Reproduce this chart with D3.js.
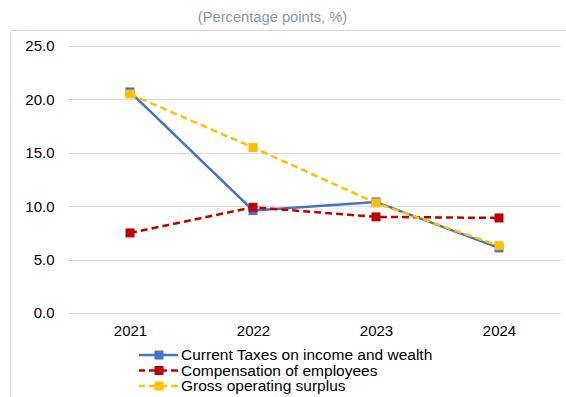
<!DOCTYPE html>
<html>
<head>
<meta charset="utf-8">
<script src="https://cdn.jsdelivr.net/npm/d3@7"></script>
<style>
  html, body { margin: 0; padding: 0; background: #fff; }
  svg { display: block; font-family: "Liberation Sans", Arial, sans-serif; }
</style>
</head>
<body>
<svg id="chart" width="566" height="397"></svg>
<script>
// Years on the category axis
const years = ["2021", "2022", "2023", "2024"];

// Series values (percentage points)
const currentTaxes = [20.7, 9.6, 10.4, 6.1];
const compensation = [7.5, 9.9, 9.0, 8.9];
const grossSurplus = [20.5, 15.5, 10.3, 6.3];

// Value axis ticks
const yTicks = [0, 5, 10, 15, 20, 25];

const seriesNames = [
  "Current Taxes on income and wealth",
  "Compensation of employees",
  "Gross operating surplus"
];

const series = [
  { name: seriesNames[0], values: currentTaxes, color: "#4472c4", dash: null },
  { name: seriesNames[1], values: compensation, color: "#c00000", dash: "7,4" },
  { name: seriesNames[2], values: grossSurplus, color: "#ffc000", dash: "7,4" }
];

const svg = d3.select("#chart");
const fontSize = 15;

// Chart frame
svg.append("path")
  .attr("d", "M10.5,397 V30.5 H566")
  .attr("fill", "none")
  .attr("stroke", "#d9d9d9")
  .attr("stroke-width", 1);

// Subtitle
svg.append("text")
  .attr("x", 272.5).attr("y", 22)
  .attr("text-anchor", "middle")
  .attr("fill", "#8497b0")
  .attr("font-size", 14.7)
  .text("(Percentage points, %)");

const x = d3.scalePoint().domain(years).range([130, 499]);
const y = d3.scaleLinear().domain([0, 25]).range([313, 46]);

// Horizontal gridlines
svg.append("g")
  .selectAll("line")
  .data(yTicks)
  .join("line")
  .attr("x1", 68).attr("x2", 561)
  .attr("y1", d => Math.round(y(d)) + 0.5)
  .attr("y2", d => Math.round(y(d)) + 0.5)
  .attr("stroke", "#d9d9d9")
  .attr("stroke-width", 1);

// Y axis labels
const yAxis = svg.append("g")
  .attr("transform", "translate(54.5,0)")
  .call(d3.axisLeft(y).tickValues(yTicks).tickFormat(d3.format(".1f")).tickSize(0).tickPadding(0));
yAxis.select(".domain").remove();
yAxis.selectAll("text")
  .attr("font-size", fontSize)
  .attr("font-family", "Liberation Sans, Arial, sans-serif")
  .attr("fill", "#000");

// X axis labels
const xAxis = svg.append("g")
  .attr("transform", "translate(0,325)")
  .call(d3.axisBottom(x).tickSize(0).tickPadding(0));
xAxis.select(".domain").remove();
xAxis.selectAll("text")
  .attr("font-size", fontSize)
  .attr("font-family", "Liberation Sans, Arial, sans-serif")
  .attr("fill", "#000");

const line = d3.line()
  .x((d, i) => x(years[i]))
  .y(d => y(d));

const ms = 9;

// Lines and square markers
series.forEach(s => {
  const g = svg.append("g");
  g.append("path")
    .datum(s.values)
    .attr("d", line)
    .attr("fill", "none")
    .attr("stroke", s.color)
    .attr("stroke-width", 2.5)
    .attr("stroke-dasharray", s.dash);
  g.selectAll("rect")
    .data(s.values)
    .join("rect")
    .attr("x", (d, i) => x(years[i]) - ms / 2)
    .attr("y", d => y(d) - ms / 2)
    .attr("width", ms).attr("height", ms)
    .attr("fill", s.color);
});

// Legend
const legend = svg.append("g");
const legendY = [355, 370.5, 386];
series.forEach((s, i) => {
  const row = legend.append("g").attr("transform", `translate(0,${legendY[i]})`);
  row.append("line")
    .attr("x1", 139).attr("x2", 178)
    .attr("y1", 0).attr("y2", 0)
    .attr("stroke", s.color)
    .attr("stroke-width", 2.5)
    .attr("stroke-dasharray", s.dash ? "7,4" : null)
    .attr("stroke-dashoffset", s.dash ? 1 : null);
  row.append("rect")
    .attr("x", 159 - ms / 2).attr("y", -ms / 2)
    .attr("width", ms).attr("height", ms)
    .attr("fill", s.color);
  row.append("text")
    .attr("x", 181).attr("y", 0)
    .attr("dy", "0.35em")
    .attr("font-size", 15.5)
    .attr("fill", "#000")
    .text(s.name);
});
</script>
</body>
</html>
